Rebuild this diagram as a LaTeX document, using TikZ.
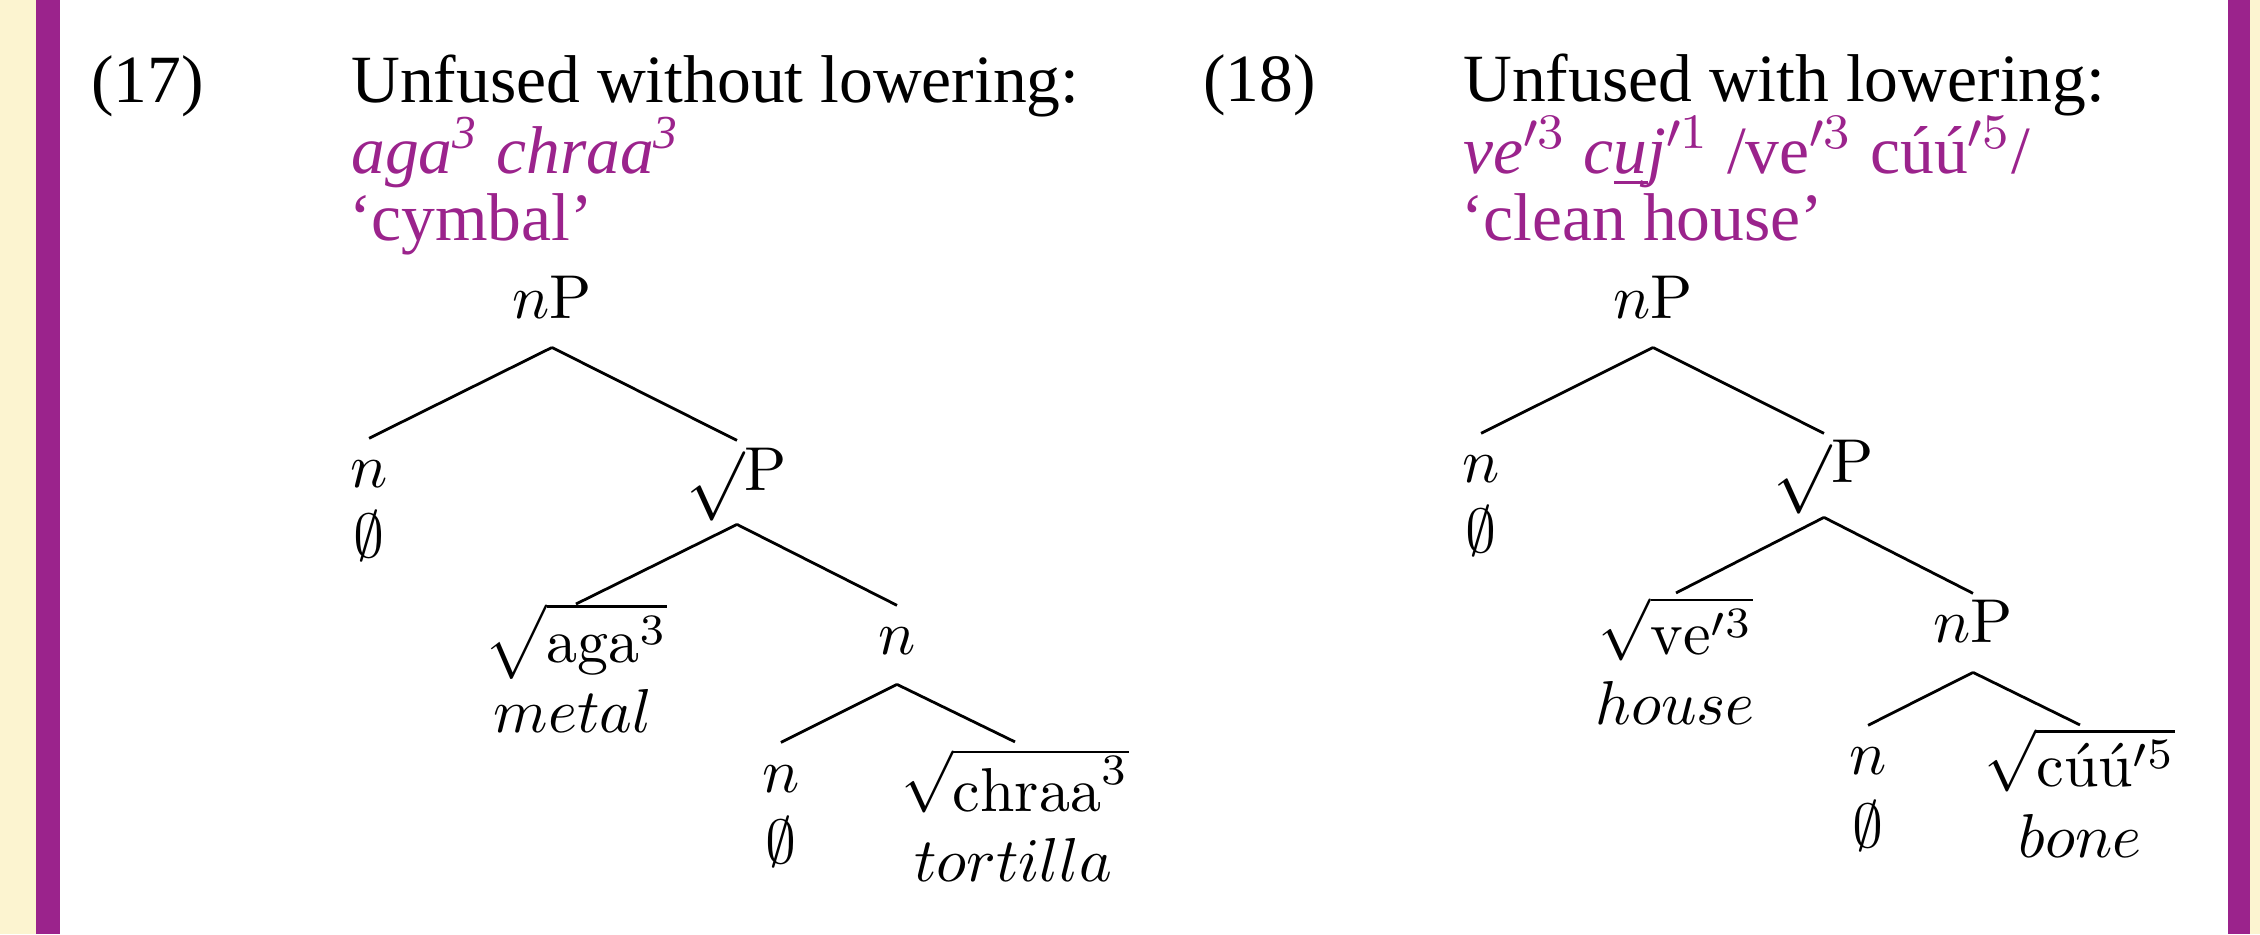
\documentclass[tikz,border=0pt]{standalone}
\usepackage{fontspec}
\newfontfamily\headfont{Liberation Serif}
\usepackage{xcolor}
\usepackage{tikz}
\definecolor{glosspurple}{RGB}{155,35,140}
\definecolor{margincream}{RGB}{252,244,208}
\newcommand{\rootP}{\raisebox{-2.2pt}{\scalebox{1.12}{$\surd$}}$\mathrm{P}$}

\begin{document}
\begin{tikzpicture}[
    cat/.style={inner sep=0pt, outer sep=0pt, anchor=base, text height=8pt, text depth=4.75pt},
    tip/.style={cat, text depth=0pt},
    leaf/.style={inner sep=0pt, outer sep=0pt, anchor=base},
    head/.style={inner sep=0pt, anchor=base west, font=\headfont\fontsize{10.9}{13}\selectfont},
    ex/.style={head, text=glosspurple},
    branch/.style={line width=0.45pt},
]
\useasboundingbox (0,0) rectangle (12.812,-5.295);
% side bars
\fill[margincream] (0,0) rectangle (0.204,-5.295);
\fill[glosspurple] (0.204,0) rectangle (0.340,-5.295);
\fill[glosspurple] (12.630,0) rectangle (12.755,-5.295);
\fill[margincream] (12.755,0) rectangle (12.812,-5.295);

% (17)
\node[head] (num17) at (0.510,-0.584) {(17)};
\node[head] (title17) at (1.984,-0.584) {Unfused without lowering:};
\node[ex] (form17) at (1.984,-0.981) {\textit{aga\textsuperscript{3} chraa\textsuperscript{3}}};
\node[ex] (gloss17) at (1.972,-1.361) {‘cymbal’};

\node[cat] (l0) at (3.129,-1.803) {$n\mathrm{P}$};
\node[tip] (l1n) at (2.092,-2.766) {$n$};
\node[leaf] (l1e) at (2.092,-3.158) {$\emptyset$};
\node[cat, text depth=5.55pt] (l1r) at (4.178,-2.778) {\rootP};
\node[tip, text height=9.35pt] (l2a) at (3.265,-3.753) {$\sqrt{\mathrm{aga}^3}$};
\node[leaf] (l2g) at (3.248,-4.155) {$metal$};
\node[cat] (l2n) at (5.085,-3.713) {$n$};
\node[tip] (l3n) at (4.427,-4.490) {$n$};
\node[leaf] (l3e) at (4.427,-4.898) {$\emptyset$};
\node[tip, text height=11.3pt] (l3c) at (5.754,-4.603) {$\sqrt{\mathrm{chraa}^3}$};
\node[leaf] (l3g) at (5.743,-5.000) {$tortilla$};

\draw[branch] (l0.south) -- (l1n.north);
\draw[branch] (l0.south) -- (l1r.north);
\draw[branch] (l1r.south) -- (l2a.north);
\draw[branch] (l1r.south) -- (l2n.north);
\draw[branch] (l2n.south) -- (l3n.north);
\draw[branch] (l2n.south) -- (l3c.north);

% (18)
\node[head] (num18) at (6.814,-0.578) {(18)};
\node[head] (title18) at (8.288,-0.578) {Unfused with lowering:};
\node[ex] (form18) at (8.288,-0.981) {\textit{ve$'^{3}$ c\underline{u}j$'^{1}$} /ve$'^{3}$ cúú$'^{5}$/};
\node[ex] (gloss18) at (8.276,-1.361) {‘clean house’};

\node[cat] (r0) at (9.371,-1.803) {$n\mathrm{P}$};
\node[tip] (r1n) at (8.396,-2.738) {$n$};
\node[leaf] (r1e) at (8.396,-3.135) {$\emptyset$};
\node[cat, text depth=5.55pt] (r1r) at (10.340,-2.738) {\rootP};
\node[tip, text height=10pt] (r2v) at (9.501,-3.713) {$\sqrt{\mathrm{ve}'^3}$};
\node[leaf] (r2g) at (9.496,-4.110) {$house$};
\node[cat] (r2n) at (11.185,-3.645) {$n\mathrm{P}$};
\node[tip] (r3n) at (10.590,-4.393) {$n$};
\node[leaf] (r3e) at (10.590,-4.802) {$\emptyset$};
\node[tip, text height=10pt] (r3c) at (11.791,-4.461) {$\sqrt{\smash{\mbox{cúú}}'^5}$};
\node[leaf] (r3g) at (11.791,-4.864) {$bone$};

\draw[branch] (r0.south) -- (r1n.north);
\draw[branch] (r0.south) -- (r1r.north);
\draw[branch] (r1r.south) -- (r2v.north);
\draw[branch] (r1r.south) -- (r2n.north);
\draw[branch] (r2n.south) -- (r3n.north);
\draw[branch] (r2n.south) -- (r3c.north);
\end{tikzpicture}
\end{document}
